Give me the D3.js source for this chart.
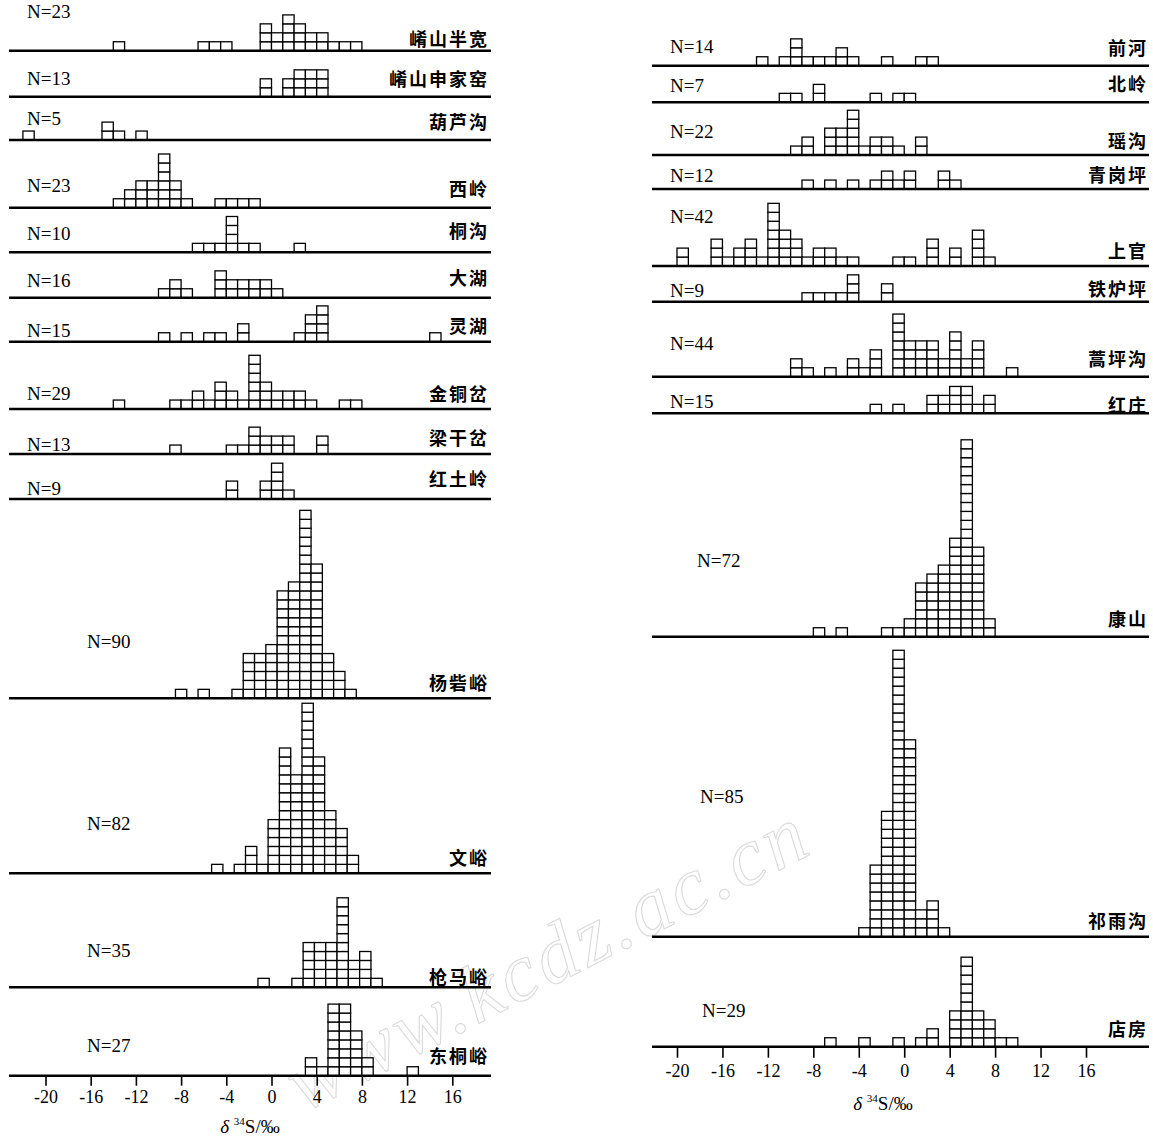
<!DOCTYPE html>
<html><head><meta charset="utf-8">
<script src="https://cdn.jsdelivr.net/npm/d3@7"></script>
<style>body{margin:0;background:#fff}</style>
</head><body>
<svg id="c" width="1153" height="1142"></svg>
<script>
// ---------- DATA ----------
const xTicks = [-20,-16,-12,-8,-4,0,4,8,12,16];
const axisTitle = "δ 34S/‰";

const leftSites = ["崤山半宽","崤山申家窑","葫芦沟","西岭","桐沟","大湖","灵湖","金铜岔","梁干岔","红土岭","杨砦峪","文峪","枪马峪","东桐峪"];
const leftN = [23,13,5,23,10,16,15,29,13,9,90,82,35,27];
// [bin start (‰), number of samples]
const leftBins = [
  [[-14,1],[-6.5,1],[-5.5,1],[-4.5,1],[-1,3],[0,2],[1,4],[2,3],[3,2],[4,2],[5,1],[6,1],[7,1]],
  [[-1,2],[1,2],[2,3],[3,3],[4,3]],
  [[-22,1],[-15,2],[-14,1],[-12,1]],
  [[-14,1],[-13,2],[-12,3],[-11,3],[-10,6],[-9,3],[-8,1],[-5,1],[-4,1],[-3,1],[-2,1]],
  [[-7,1],[-6,1],[-5,1],[-4,4],[-3,1],[-2,1],[2,1]],
  [[-10,1],[-9,2],[-8,1],[-5,3],[-4,2],[-3,2],[-2,2],[-1,2],[0,1]],
  [[-10,1],[-8,1],[-6,1],[-5,1],[-3,2],[2,1],[3,3],[4,4],[14,1]],
  [[-14,1],[-9,1],[-8,1],[-7,2],[-6,1],[-5,3],[-4,2],[-3,1],[-2,6],[-1,3],[0,2],[1,2],[2,2],[3,1],[6,1],[7,1]],
  [[-9,1],[-4,1],[-3,1],[-2,3],[-1,2],[0,2],[1,2],[4,2]],
  [[-4,2],[-1,2],[0,4],[1,1]],
  [[-8.5,1],[-6.5,1],[-3.5,1],[-2.5,5],[-1.5,5],[-0.5,6],[0.5,12],[1.5,13],[2.5,21],[3.5,15],[4.5,5],[5.5,3],[6.5,1]],
  [[-5.3,1],[-3.3,1],[-2.3,3],[-1.3,1],[-0.3,6],[0.7,14],[1.7,11],[2.7,19],[3.7,13],[4.7,7],[5.7,5],[6.7,2]],
  [[-1.2,1],[1.8,1],[2.8,5],[3.8,5],[4.8,5],[5.8,10],[6.8,3],[7.8,4],[8.8,1]],
  [[3,2],[4,1],[5,8],[6,8],[7,5],[8,2],[12,1]]
];

const rightSites = ["前河","北岭","瑶沟","青岗坪","上官","铁炉坪","蒿坪沟","红庄","康山","祁雨沟","店房"];
const rightN = [14,7,22,12,42,9,44,15,72,85,29];
const rightBins = [
  [[-13,1],[-11,1],[-10,3],[-9,1],[-8,1],[-7,1],[-6,2],[-5,1],[-2,1],[1,1],[2,1]],
  [[-11,1],[-10,1],[-8,2],[-3,1],[-1,1],[0,1]],
  [[-10,1],[-9,2],[-7,3],[-6,3],[-5,5],[-4,1],[-3,2],[-2,2],[-1,1],[1,2]],
  [[-9,1],[-7,1],[-5,1],[-3,1],[-2,2],[-1,1],[0,2],[3,2],[4,1]],
  [[-20,2],[-17,3],[-16,1],[-15,2],[-14,3],[-13,1],[-12,7],[-11,4],[-10,3],[-9,1],[-8,2],[-7,2],[-6,1],[-5,1],[-1,1],[0,1],[2,3],[4,2],[6,4],[7,1]],
  [[-9,1],[-8,1],[-7,1],[-6,1],[-5,3],[-2,2]],
  [[-10,2],[-9,1],[-7,1],[-5,2],[-4,1],[-3,3],[-1,7],[0,4],[1,4],[2,4],[3,2],[4,5],[5,2],[6,4],[9,1]],
  [[-3,1],[-1,1],[2,2],[3,2],[4,3],[5,3],[6,1],[7,2]],
  [[-8,1],[-6,1],[-2,1],[-1,1],[0,2],[1,6],[2,7],[3,8],[4,11],[5,22],[6,10],[7,2]],
  [[-4,1],[-3,8],[-2,14],[-1,32],[0,22],[1,3],[2,4],[3,1]],
  [[-7,1],[-4,1],[-1,1],[1,1],[2,2],[4,4],[5,10],[6,4],[7,3],[8,1],[9,1]]
];

// ---------- LAYOUT ----------
const leftLayout = {
  base: [50.7,96.7,140,207.7,252.3,297.7,341.7,409,454,499,698.3,873.3,987.3,1075.7],
  nY:   [18,85,125,192,240,287,337,400,451,495,648,830,957,1052],
  nX:   [27,27,27,27,27,27,27,27,27,27,87,87,87,87],
  nameY:[46,86,129,196,238,285,333,401,445,486,690,865,984,1063],
  nameX: 489, x1: 9, x2: 491,
  range: [45.5, 452.3], tickLabelY: 1108, titleX: 250, titleY: 1133, tick: 10
};
const rightLayout = {
  base: [65.7,102.3,155,189,266,301.7,376.7,413.3,636.7,936.7,1046.7],
  nY:   [53,92,138,182,223,297,350,408,567,803,1017],
  nX:   [670,670,670,670,670,670,670,670,697,700,702],
  nameY:[55,91,148,182,258,296,366,412,626,928,1036],
  nameX: 1148, x1: 652, x2: 1149,
  range: [677, 1086], tickLabelY: 1082, titleX: 883, titleY: 1110, tick: 11
};

const svg = d3.select("#c");
const cellH = d3.scaleLinear().domain([0,1]).range([0, 8.95]);

// watermark
svg.append("text").attr("transform","translate(560,982) rotate(-27)")
  .attr("text-anchor","middle").attr("font-family","Liberation Serif").attr("font-style","italic")
  .attr("font-size",82).attr("fill","none").attr("stroke","#dadada").attr("stroke-width",1.1)
  .attr("letter-spacing",4).text("www.kcdz.ac.cn");

function drawColumn(sites, Ns, bins, L) {
  const x = d3.scaleLinear().domain([-20,16]).range(L.range);
  const g = svg.append("g");
  sites.forEach((name, p) => {
    const base = L.base[p];
    const cells = bins[p].flatMap(([s,c]) => d3.range(c).map(i => ({s, i})));
    g.append("g").selectAll("rect").data(cells).join("rect")
      .attr("x", d => x(d.s)).attr("width", d => x(d.s+1) - x(d.s))
      .attr("y", d => base - cellH(d.i+1)).attr("height", cellH(1))
      .attr("fill","#fff").attr("stroke","#000").attr("stroke-width",1.3);
    g.append("line").attr("x1",L.x1).attr("x2",L.x2).attr("y1",base).attr("y2",base)
      .attr("stroke","#000").attr("stroke-width",2.4);
    g.append("text").attr("x",L.nX[p]).attr("y",L.nY[p])
      .attr("font-family","Liberation Serif").attr("font-size",19).text("N=" + Ns[p]);
    g.append("text").attr("x",L.nameX).attr("y",L.nameY[p]).attr("text-anchor","end")
      .attr("font-family","Noto Sans CJK SC").attr("font-weight",700).attr("font-size",18)
      .attr("letter-spacing",2).text(name);
  });
  const last = L.base[L.base.length-1];
  const ax = g.append("g").attr("transform",`translate(0,${last})`)
    .call(d3.axisBottom(x).tickValues(xTicks).tickSize(L.tick).tickFormat(d => String(d)));
  ax.select(".domain").remove();
  ax.selectAll(".tick line").attr("stroke","#000").attr("stroke-width",1.6);
  ax.selectAll(".tick text").attr("y", L.tickLabelY - last - 5).attr("dy",0)
    .attr("font-family","Liberation Serif").attr("font-size",18).attr("fill","#000");
  const t = g.append("text").attr("x",L.titleX).attr("y",L.titleY).attr("text-anchor","middle")
    .attr("font-family","Liberation Serif").attr("font-size",19);
  t.append("tspan").attr("font-style","italic").text(axisTitle.slice(0,1) + " ");
  t.append("tspan").attr("font-size",11).attr("dy",-8).text(axisTitle.slice(2,4));
  t.append("tspan").attr("dy",8).text(axisTitle.slice(4));
}
drawColumn(leftSites, leftN, leftBins, leftLayout);
drawColumn(rightSites, rightN, rightBins, rightLayout);
</script>
</body></html>
